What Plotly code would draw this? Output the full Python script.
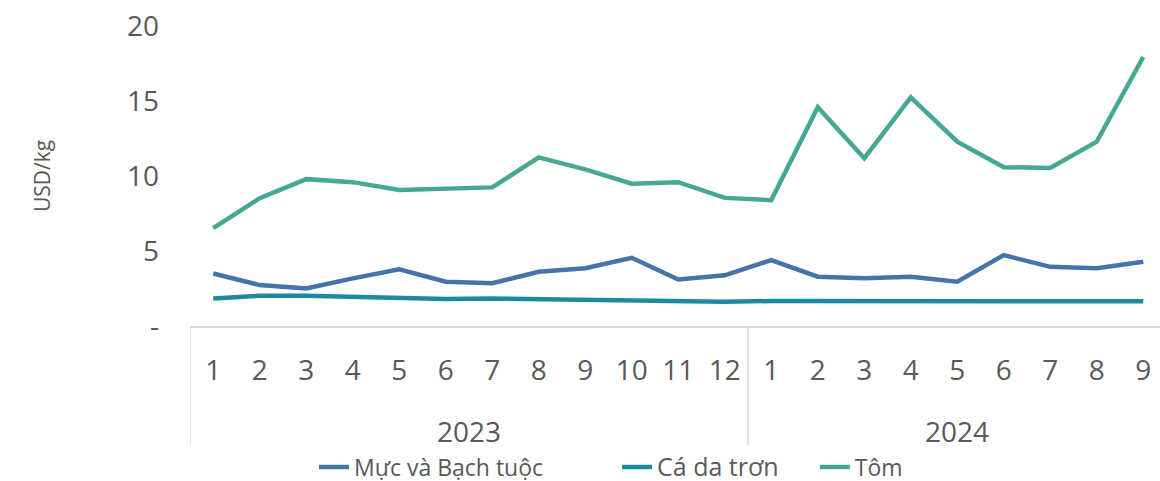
import plotly.graph_objects as go

# Monthly prices, Jan 2023 - Sep 2024 (USD/kg)
years = ["2023", "2024"]
months = [str(m) for m in range(1, 13)] + [str(m) for m in range(1, 10)]
muc = [3.5, 2.73, 2.5, 3.18, 3.78, 2.95, 2.85, 3.62, 3.85, 4.55, 3.1, 3.38,
       4.4, 3.29, 3.18, 3.29, 2.95, 4.73, 3.95, 3.85, 4.29]
ca_da_tron = [1.84, 2.02, 2.02, 1.97, 1.89, 1.8, 1.84, 1.8, 1.78, 1.73, 1.69, 1.62,
              1.67, 1.66, 1.67, 1.67, 1.63, 1.65, 1.67, 1.65, 1.65]
tom = [6.53, 8.53, 9.8, 9.6, 9.07, 9.18, 9.25, 11.25, 10.45, 9.5, 9.6, 8.55,
       8.4, 14.6, 11.2, 15.25, 12.3, 10.6, 10.55, 12.3, 17.95]
y_ticks = [0, 5, 10, 15, 20]
y_ticktext = ["-", "5", "10", "15", "20"]

x = list(range(len(months)))
grey = "#595959"
font = "Open Sans"
em = "\u2003"

fig = go.Figure()
fig.add_trace(go.Scatter(x=x, y=muc, mode="lines", name="Mực và Bạch tuộc" + em * 3,
                         line=dict(color="#4474AA", width=4.5)))
fig.add_trace(go.Scatter(x=x, y=ca_da_tron, mode="lines",
                         name="<span style='font-size:25px'>Cá da trơn" + em + "\u2005</span>",
                         line=dict(color="#1B8A9E", width=4.5)))
fig.add_trace(go.Scatter(x=x, y=tom, mode="lines", name="Tôm",
                         line=dict(color="#46A892", width=4.5)))

# year group labels and dividers under the month labels
n_2023 = 12
fig.add_annotation(x=(n_2023 - 1) / 2, y=-0.35, xref="x", yref="paper",
                   text=years[0], showarrow=False, yanchor="middle",
                   font=dict(size=28, color=grey, family=font))
fig.add_annotation(x=(n_2023 + len(months) - 1) / 2, y=-0.35, xref="x", yref="paper",
                   text=years[1], showarrow=False, yanchor="middle",
                   font=dict(size=28, color=grey, family=font))
for xd in [-0.5, n_2023 - 0.5, len(months) - 0.5]:
    fig.add_shape(type="line", xref="x", yref="paper", x0=xd, x1=xd, y0=0, y1=-0.397,
                  line=dict(color="#D9D9D9", width=1.5))

fig.update_layout(
    width=1160,
    height=481,
    margin=dict(l=190, r=0, t=26, b=155, autoexpand=False),
    plot_bgcolor="white",
    paper_bgcolor="white",
    font=dict(family=font, color=grey),
    showlegend=True,
    legend=dict(orientation="h", x=0.434, xanchor="center", y=-0.47, yanchor="middle",
                font=dict(size=23, color=grey, family=font)),
    xaxis=dict(range=[-0.5, 20.36], tickvals=x, ticktext=months, showgrid=False,
               zeroline=False, showline=True, linecolor="#D9D9D9", linewidth=1.5,
               ticks="", ticklabelstandoff=19, tickfont=dict(size=28, color=grey),
               automargin=False),
    yaxis=dict(range=[0, 20.02], tickvals=y_ticks, ticktext=y_ticktext, showgrid=False,
               zeroline=False, showline=False, ticks="", ticklabelstandoff=30,
               ticklabeloverflow="allow",
               tickfont=dict(size=28, color=grey), automargin=False,
               title=dict(text="USD/kg", standoff=70, font=dict(size=21, color=grey))),
)

# drop the default page margin so the figure fills the window exactly
fig.write_html("out.html", config={"displayModeBar": False},
               post_script="document.body.style.margin = '0';")
